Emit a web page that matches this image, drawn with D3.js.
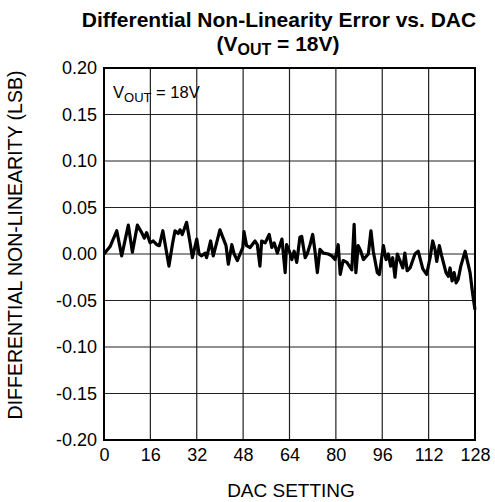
<!DOCTYPE html>
<html>
<head>
<meta charset="utf-8">
<script src="https://cdn.jsdelivr.net/npm/d3@7"></script>
<style>
  body { margin: 0; background: #fff; }
  svg { display: block; font-family: "Liberation Sans", Arial, sans-serif; }
</style>
</head>
<body>
<div id="chart"></div>
<script>
// Chart data
const dacSetting = [
  0, 2.1, 4.4, 6.1, 8.4, 9.8, 11.5, 13.0, 13.9, 14.7, 15.9, 17.0, 18.2, 19.1, 20.3, 21.3,
  22.4, 23.7, 24.5, 25.6, 26.2, 27.0, 28.5, 29.7, 30.5, 32.0, 32.8, 33.7, 34.9, 35.4, 36.8,
  37.7, 40.0, 42.1, 42.9, 44.1, 44.9, 46.0, 47.9, 48.3, 49.2, 50.4, 52.1, 52.9, 53.8, 54.4,
  55.6, 57.0, 57.9, 58.7, 59.8, 61.4, 62.5, 63.0, 64.2, 64.8, 65.6, 66.5, 67.6, 68.2, 69.4,
  70.1, 71.1, 72.0, 72.8, 73.6, 74.5, 75.7, 77.4, 78.6, 79.7, 80.8, 81.5, 82.5, 83.8, 85.5,
  86.3, 86.9, 87.7, 88.6, 89.5, 91.2, 92.1, 92.9, 94.3, 95.0, 96.4, 97.3, 98.1, 98.9, 99.6,
  100.4, 101.2, 103.1, 103.8, 104.6, 105.6, 107.3, 108.4, 110.0, 111.3, 112.5, 113.4, 114.2,
  114.8, 115.7, 116.5, 118.0, 118.8, 119.4, 120.1, 120.8, 121.5, 122.2, 123.1, 124.6, 125.4,
  126.3, 127.2, 128
];
const dnl = [
  0, 0.008, 0.025, -0.002, 0.031, 0.002, 0.031, 0.023, 0.017, 0.023, 0.012, 0.014, 0.010, 0.009, 0.025, 0.007,
  -0.013, 0.012, 0.025, 0.022, 0.026, 0.021, 0.034, 0.012, -0.004, 0.016, 0, -0.002, 0.001, -0.004, 0.014,
  -0.002, 0.026, 0.009, -0.011, 0.010, 0.000, -0.007, 0.007, 0.024, 0.009, 0.007, 0.014, 0.010, -0.013, 0.014,
  0.012, 0.021, 0.007, 0.012, 0.001, 0.016, -0.020, 0.010, 0.001, -0.006, 0.003, -0.009, 0.018, 0.019, -0.004,
  0.000, 0.010, 0.021, 0.003, -0.020, 0.005, 0.001, 0, -0.002, -0.006, 0.010, -0.022, -0.007, -0.009, -0.017,
  0.032, -0.020, 0.009, 0.003, -0.006, 0, 0.025, 0.003, -0.020, -0.022, 0.009, -0.006, 0, -0.013, -0.004,
  -0.025, 0, -0.015, 0.001, -0.018, -0.015, 0, 0.003, -0.016, -0.022, -0.004, 0.014, 0.005,
  -0.008, 0.009, -0.002, -0.020, -0.024, -0.015, -0.029, -0.020, -0.031, -0.027, -0.013, 0.003, -0.008,
  -0.020, -0.043, -0.060
];
const xTicks = [0, 16, 32, 48, 64, 80, 96, 112, 128];
const yTicks = [-0.20, -0.15, -0.10, -0.05, 0.00, 0.05, 0.10, 0.15, 0.20];
const yTickLabels = ["-0.20", "-0.15", "-0.10", "-0.05", "0.00", "0.05", "0.10", "0.15", "0.20"];

const data = dacSetting.map((d, i) => ({ dac: d, dnl: dnl[i] }));

const W = 495, H = 502;
const plot = { left: 104, right: 475, top: 68, bottom: 440 };

const x = d3.scaleLinear().domain([0, 128]).range([plot.left, plot.right]);
const y = d3.scaleLinear().domain([-0.2, 0.2]).range([plot.bottom, plot.top]);

const svg = d3.select("#chart").append("svg")
  .attr("width", W)
  .attr("height", H);

// grid lines
svg.append("g")
  .selectAll("line")
  .data(xTicks)
  .join("line")
  .attr("x1", d => x(d)).attr("x2", d => x(d))
  .attr("y1", plot.top).attr("y2", plot.bottom)
  .attr("stroke", "#222")
  .attr("stroke-width", 1.2);

svg.append("g")
  .selectAll("line")
  .data(yTicks)
  .join("line")
  .attr("x1", plot.left).attr("x2", plot.right)
  .attr("y1", d => y(d)).attr("y2", d => y(d))
  .attr("stroke", "#222")
  .attr("stroke-width", 1.2);

// frame
svg.append("rect")
  .attr("x", plot.left).attr("y", plot.top)
  .attr("width", plot.right - plot.left)
  .attr("height", plot.bottom - plot.top)
  .attr("fill", "none")
  .attr("stroke", "#000")
  .attr("stroke-width", 2);

// x axis labels
svg.append("g")
  .attr("transform", `translate(0,${plot.bottom})`)
  .style("font-size", "18px")
  .call(d3.axisBottom(x).tickValues(xTicks).tickSize(0).tickPadding(8).tickFormat(d3.format("d")))
  .call(g => g.select(".domain").remove())
  .selectAll("text")
  .attr("fill", "#000")
  .style("font-family", "'Liberation Sans', Arial, sans-serif");

// y axis labels (plain hyphen for negatives, as in the reference)
svg.append("g")
  .attr("transform", `translate(${plot.left},0)`)
  .style("font-size", "18px")
  .call(d3.axisLeft(y).tickValues(yTicks).tickSize(0).tickPadding(7)
    .tickFormat((d, i) => yTickLabels[i]))
  .call(g => g.select(".domain").remove())
  .selectAll("text")
  .attr("fill", "#000")
  .style("font-family", "'Liberation Sans', Arial, sans-serif");

// data line
const line = d3.line()
  .x(d => x(d.dac))
  .y(d => y(d.dnl));

svg.append("path")
  .datum(data)
  .attr("fill", "none")
  .attr("stroke", "#000")
  .attr("stroke-width", 3.2)
  .attr("stroke-linejoin", "round")
  .attr("d", line);

// title
svg.append("text")
  .attr("x", 279)
  .attr("y", 27)
  .attr("text-anchor", "middle")
  .style("font-size", "21px")
  .style("font-weight", "bold")
  .text("Differential Non-Linearity Error vs. DAC");

const sub = svg.append("text")
  .attr("x", 278)
  .attr("y", 51)
  .attr("text-anchor", "middle")
  .style("font-size", "21px")
  .style("font-weight", "bold");
sub.append("tspan").text("(V");
sub.append("tspan").attr("dy", 4).style("font-size", "16px").text("OUT");
sub.append("tspan").attr("dy", -4).text(" = 18V)");

// annotation inside plot
const note = svg.append("text")
  .attr("x", 113)
  .attr("y", 98)
  .style("font-size", "16.5px");
note.append("tspan").text("V");
note.append("tspan").attr("dy", 4).style("font-size", "13px").text("OUT");
note.append("tspan").attr("dy", -4).text(" = 18V");

// axis titles
svg.append("text")
  .attr("x", 291)
  .attr("y", 497)
  .attr("text-anchor", "middle")
  .style("font-size", "19px")
  .text("DAC SETTING");

svg.append("text")
  .attr("transform", "translate(22,245) rotate(-90)")
  .attr("text-anchor", "middle")
  .style("font-size", "19.5px")
  .text("DIFFERENTIAL NON-LINEARITY (LSB)");
</script>
</body>
</html>
